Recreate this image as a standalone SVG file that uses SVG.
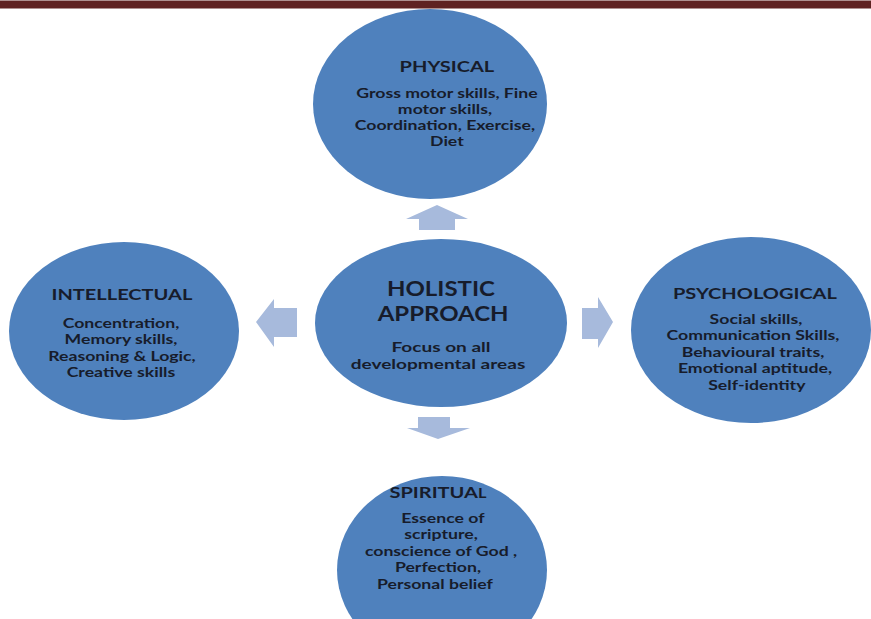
<svg xmlns="http://www.w3.org/2000/svg" width="871" height="619" viewBox="0 0 871 619">
  <style>
    .node { fill: #4f81bd; }
    .arrow { fill: #a7badc; }
    text { font-family: Lato, "Open Sans", "Liberation Sans", sans-serif; font-weight: 700; fill: #171c2b; text-anchor: middle;
           transform-box: fill-box; transform-origin: center; }
    .title { font-size: 16px; transform: scaleX(1.25); }
    .body { font-size: 13px; transform: scaleX(1.36); }
    .hub-title { font-size: 20px; transform: scaleX(1.2); }
    .hub-body { font-size: 14px; transform: scaleX(1.36); }
  </style>
  <rect width="871" height="619" fill="#ffffff"/>
  <!-- header rule -->
  <rect x="0" y="0.5" width="871" height="8" fill="#5f2222"/>

  <!-- connectors: block arrows radiating from the hub -->
  <g id="connectors">
    <polygon class="arrow" points="437,205 468,219 455,219 455,230 419,230 419,219 406,219"/>
    <polygon class="arrow" points="418,417 450,417 450,428 470,428 438,439 407,428 418,428"/>
    <polygon class="arrow" points="256,322 274,299 274,308 297,308 297,337 274,337 274,347"/>
    <polygon class="arrow" points="582,308 598,308 598,297 613,322 598,348 598,339 582,339"/>
  </g>

  <g id="physical">
    <ellipse class="node" cx="430" cy="104" rx="117" ry="95"/>
    <text class="title" x="447" y="72">PHYSICAL</text>
    <text class="body" x="447" y="98">Gross motor skills, Fine</text>
    <text class="body" x="445" y="114">motor skills,</text>
    <text class="body" x="445" y="130">Coordination, Exercise,</text>
    <text class="body" x="447" y="146">Diet</text>
  </g>

  <g id="holistic">
    <ellipse class="node" cx="441" cy="323" rx="126" ry="84"/>
    <text class="hub-title" x="441" y="296">HOLISTIC</text>
    <text class="hub-title" x="443" y="321">APPROACH</text>
    <text class="hub-body" x="441" y="352">Focus on all</text>
    <text class="hub-body" x="438" y="369.5">developmental areas</text>
  </g>

  <g id="intellectual">
    <ellipse class="node" cx="124" cy="331" rx="115" ry="89"/>
    <text class="title" x="122" y="300">INTELLECTUAL</text>
    <text class="body" x="121" y="328">Concentration,</text>
    <text class="body" x="121" y="344.5">Memory skills,</text>
    <text class="body" x="122" y="361">Reasoning &amp; Logic,</text>
    <text class="body" x="121" y="377.5">Creative skills</text>
  </g>

  <g id="psychological">
    <ellipse class="node" cx="751" cy="330" rx="120" ry="93"/>
    <text class="title" x="755" y="299">PSYCHOLOGICAL</text>
    <text class="body" x="756" y="324">Social skills,</text>
    <text class="body" x="753" y="340.5">Communication Skills,</text>
    <text class="body" x="753" y="357">Behavioural traits,</text>
    <text class="body" x="755" y="373.5">Emotional aptitude,</text>
    <text class="body" x="757" y="390">Self-identity</text>
  </g>

  <g id="spiritual">
    <ellipse class="node" cx="442" cy="570" rx="105" ry="94"/>
    <text class="title" x="438" y="498">SPIRITUA<tspan font-size="13">L</tspan></text>
    <text class="body" x="443" y="523">Essence of</text>
    <text class="body" x="441" y="539.5">scripture,</text>
    <text class="body" x="441" y="556">conscience of God ,</text>
    <text class="body" x="438" y="572.5">Perfection,</text>
    <text class="body" x="435" y="589">Personal belief</text>
  </g>
</svg>
